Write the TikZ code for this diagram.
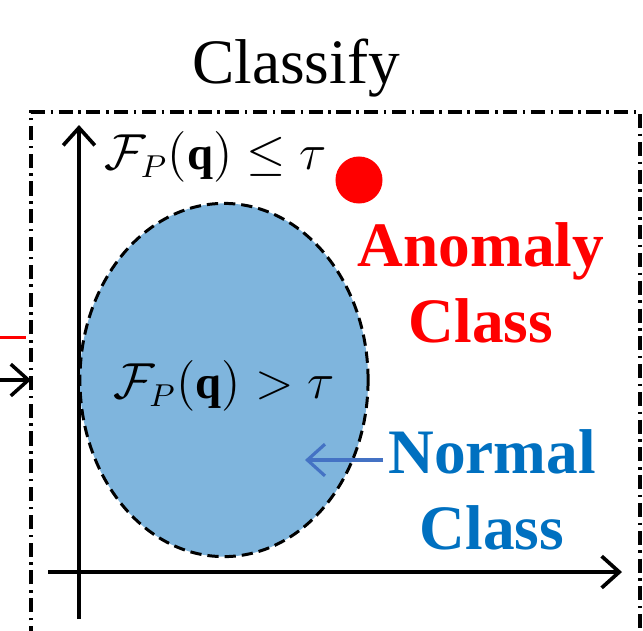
\documentclass[tikz,border=0pt]{standalone}
\usepackage{fontspec}
\setmainfont{Liberation Serif}
\usepackage{amsmath}
\usetikzlibrary{arrows.meta,positioning,shapes.geometric}
\definecolor{anoCol}{HTML}{FF0000}
\definecolor{nrmCol}{HTML}{0070C0}
\definecolor{regCol}{HTML}{7FB5DD}
\definecolor{ptrCol}{HTML}{4472C4}
\tikzset{
  frame/.style={line width=0.95pt, dash pattern=on 4pt off 1.6pt on 0.7pt off 1.6pt},
  axis/.style={line width=1.05pt, -{Straight Barb[length=5pt,width=9pt]}},
  region/.style={ellipse, draw, fill=regCol, line width=0.85pt,
                 dash pattern=on 3.2pt off 1.7pt,
                 minimum width=2.88cm, minimum height=3.53cm, inner sep=0pt},
  classlbl/.style={font=\fontsize{18}{21.6}\selectfont\bfseries, align=center},
  mathlbl/.style={font=\fontsize{13.3}{16}\selectfont},
}
\begin{document}
\begin{tikzpicture}[x=0.01cm,y=-0.01cm]
  \useasboundingbox (0,0) rectangle (643,630);
  % stage frame
  \draw[frame] (31,640) -- (31,112) -- (640,112) -- (640,640);
  \node[anchor=base, font=\fontsize{18}{21.6}\selectfont] (title) at (296,83) {Classify};

  % incoming lines from the previous stage
  \coordinate (rin0) at (0,337);  \coordinate (rin1) at (26,337);
  \coordinate (ain0) at (0,380);  \coordinate (ain1) at (31,380);
  \draw[anoCol, line width=0.85pt] (rin0) -- (rin1);
  \draw[line width=1pt, -{Straight Barb[length=5pt,width=9pt]}] (ain0) -- (ain1);

  % axes
  \coordinate (ybot) at (79,619);  \coordinate (ytop) at (79,125);
  \coordinate (xlft) at (48,572);  \coordinate (xrgt) at (622,572);
  \draw[axis] (ybot) -- (ytop);
  \draw[axis] (xlft) -- (xrgt);

  \node[mathlbl, anchor=west] (upper) at (92,157) {$\mathcal{F}_P(\mathbf{q}) \le \tau$};
  \node[region] (normreg) at (224,380) {};
  \node[mathlbl] (inner) at (224,386) {$\mathcal{F}_P(\mathbf{q}) > \tau$};

  \node[circle, fill=anoCol, minimum size=0.47cm, inner sep=0pt] (outlier) at (359,180) {};
  \node[classlbl, text=anoCol] (anomaly) at (481,283) {Anomaly\\Class};
  \node[classlbl, text=nrmCol] (normal) at (492,490) {Normal\\Class};

  \coordinate (ptr0) at (383,460);  \coordinate (ptr1) at (305,460);
  \draw[ptrCol, line width=0.9pt, -{Straight Barb[length=5pt,width=9pt]}] (ptr0) -- (ptr1);
\end{tikzpicture}
\end{document}
